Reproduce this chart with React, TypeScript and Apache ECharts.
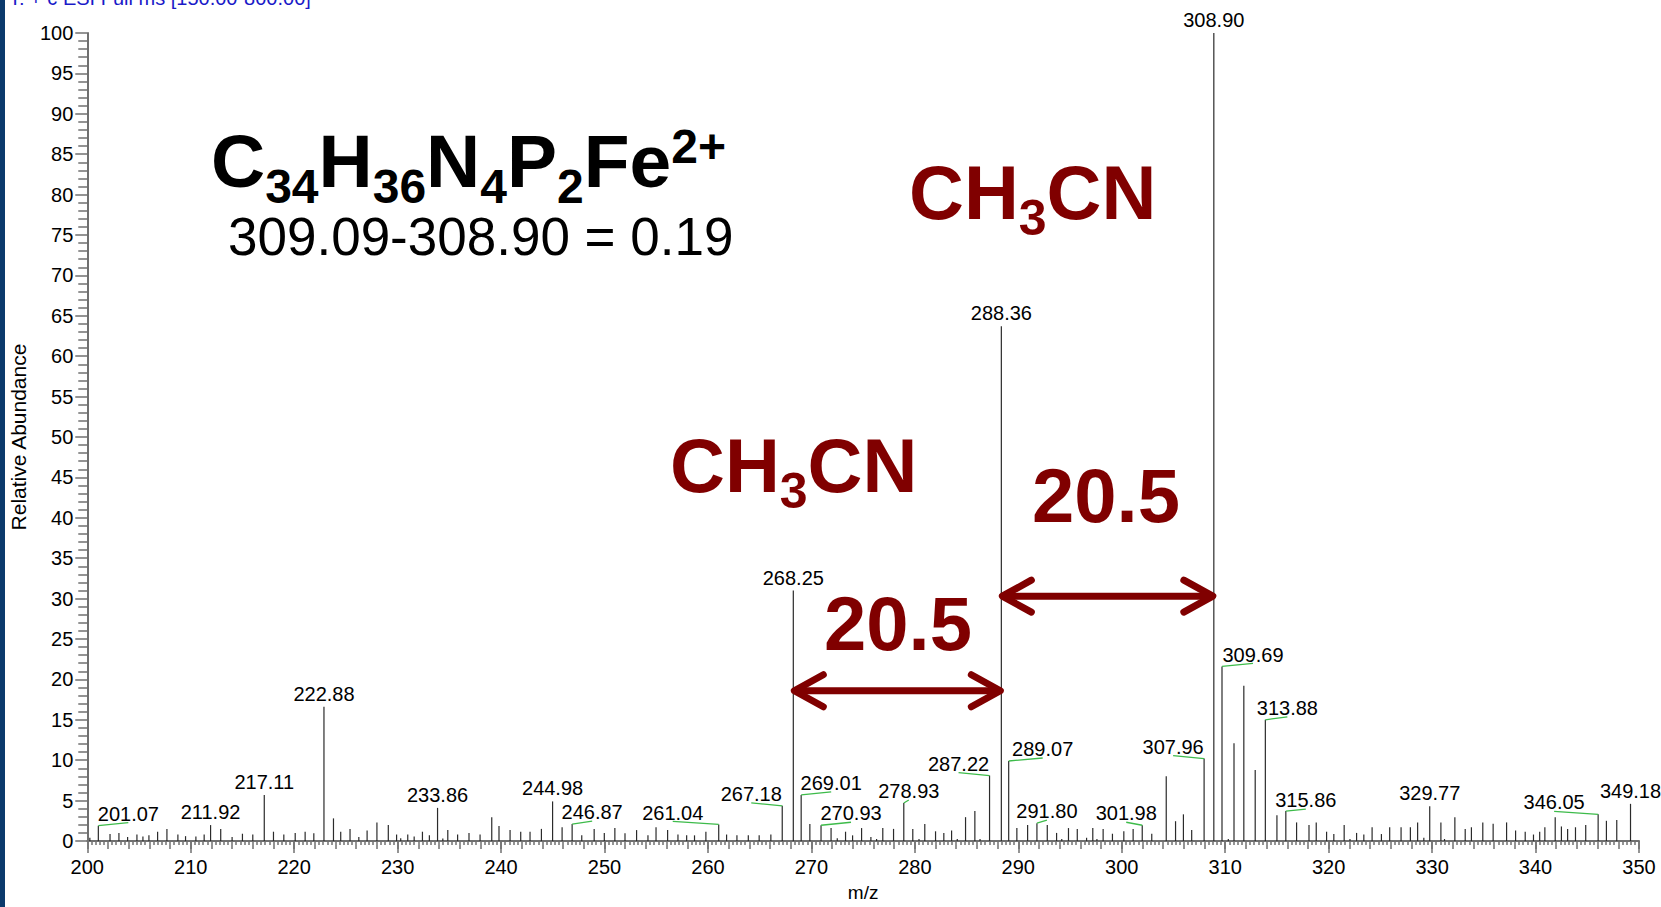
import React, { useEffect, useRef } from "react";
import * as echarts from "echarts";

// ---- spectrum data: centroid sticks (m/z, relative abundance %) ----
const peakMz = [
  200.25, 201.07, 202.2, 203.06, 203.9, 204.8, 205.38, 205.96, 206.8, 207.7,
  208.76, 209.5, 210.5, 211.3, 211.92, 212.9, 214.0, 215.0, 216.0, 217.11,
  218.0, 219.0, 220.1, 221.06, 221.9, 222.88, 223.8, 224.5, 225.4, 226.25,
  227.05, 228.0, 229.1, 229.9, 230.3, 230.98, 231.6, 232.4, 233.07, 233.86,
  234.37, 234.85, 235.8, 236.9, 237.97, 239.1, 239.8, 240.87, 241.9, 242.8,
  243.9, 244.98, 245.9, 246.87, 247.8, 249.0, 249.98, 251.0, 251.98, 253.1,
  254.2, 254.98, 256.1, 257.1, 257.94, 258.7, 259.8, 261.04, 261.8, 262.8,
  263.9, 264.95, 266.08, 267.18, 268.25, 269.01, 269.85, 270.93, 271.9, 272.5,
  273.3, 273.98, 274.85, 275.75, 276.3, 276.9, 277.94, 278.93, 279.8, 280.4,
  280.96, 282.0, 282.8, 283.55, 284.1, 284.9, 285.8, 286.3, 287.22, 288.36,
  289.07, 289.86, 290.9, 291.8, 292.8, 293.7, 294.2, 294.85, 295.7, 296.6,
  297.2, 297.6, 298.2, 299.1, 300.2, 301.1, 301.98, 302.9, 304.3, 305.2,
  305.96, 306.76, 307.96, 308.9, 309.69, 310.3, 310.85, 311.8, 312.9, 313.88,
  315.0, 315.86, 316.9, 318.1, 318.8, 319.8, 320.5, 321.5, 322.06, 322.7,
  323.4, 324.2, 325.1, 325.9, 327.0, 327.9, 328.6, 329.2, 329.77, 330.85,
  331.2, 332.2, 333.2, 333.8, 334.9, 335.9, 337.2, 338.07, 339.0, 339.8,
  340.4, 340.9, 341.9, 342.5, 343.1, 343.86, 344.85, 346.05, 346.85, 347.85,
  349.18,
];

const peakAbundance = [
  0.4, 1.9, 0.86, 1.0, 0.5, 0.8, 0.55, 0.7, 1.15, 1.5,
  0.8, 0.6, 0.55, 0.8, 1.97, 1.5, 0.5, 0.9, 0.8, 5.7,
  1.15, 0.8, 1.0, 1.15, 0.95, 16.6, 2.8, 1.15, 1.5, 0.5,
  1.3, 2.3, 1.97, 0.8, 0.35, 0.8, 0.55, 1.15, 0.7, 4.1,
  0.3, 1.35, 0.8, 1.0, 0.8, 2.95, 1.85, 1.35, 1.15, 1.15,
  1.5, 4.9, 1.7, 2.1, 0.7, 1.5, 1.0, 1.6, 0.95, 1.35,
  0.7, 1.7, 1.35, 0.8, 0.7, 0.7, 1.15, 2.05, 0.8, 0.7,
  0.7, 0.7, 0.8, 4.35, 31.0, 5.7, 2.1, 1.95, 1.6, 0.35,
  1.15, 0.7, 1.6, 0.5, 0.25, 1.6, 1.5, 4.7, 1.5, 0.25,
  2.1, 1.2, 1.0, 1.3, 0.25, 2.95, 3.7, 0.25, 8.1, 63.7,
  9.9, 1.6, 1.97, 2.2, 1.97, 1.0, 0.25, 1.6, 1.5, 0.4,
  1.6, 0.25, 1.5, 0.9, 1.2, 1.5, 1.95, 0.9, 8.0, 2.45,
  3.3, 1.35, 10.2, 100, 21.6, 0.25, 12.1, 19.2, 8.8, 15.0,
  3.2, 3.7, 2.3, 1.97, 2.3, 1.15, 0.86, 1.97, 0.25, 1.0,
  0.8, 1.7, 0.86, 1.7, 1.7, 1.7, 2.3, 0.4, 4.3, 2.3,
  0.25, 2.95, 1.5, 1.7, 2.3, 2.15, 2.3, 1.3, 1.15, 0.8,
  1.15, 1.7, 2.95, 1.8, 1.5, 1.7, 1.97, 3.3, 2.5, 2.6,
  4.6,
];

// sticks that carry an m/z label
const labeledMz = [
  "201.07", "211.92", "217.11", "222.88", "233.86", "244.98", "246.87",
  "261.04", "267.18", "268.25", "269.01", "270.93", "278.93", "287.22",
  "288.36", "289.07", "291.80", "301.98", "307.96", "308.90", "309.69",
  "313.88", "315.86", "329.77", "346.05", "349.18",
];

// label nudges in px (same order as labeledMz); nudged labels get a leader line
const labelNudgePx: [number, number][] = [
  [30, 1], [0, 0], [0, 0], [0, 0], [0, 0], [0, 0], [20, 1],
  [-46, 1], [-31, 1], [0, 0], [30, 1], [30, 1], [5, 1], [-31, 1],
  [0, 0], [34, 1], [10, 1], [-16, 1], [-31, 1], [0, 0], [31, 1],
  [22, 1], [20, 2], [0, 0], [-44, 1], [0, 0],
];

// neutral-loss spacings marked with double arrows (m/z from -> to, at % height)
const arrowFrom = [268.25, 288.36];
const arrowTo = [288.36, 308.9];
const arrowLevel = [18.6, 30.3];

// axis ranges
const MZ_MIN = 200;
const MZ_MAX = 350;
const MZ_MAJOR = 10;
const MZ_MID = 2;
const AB_MIN = 0;
const AB_MAX = 100;
const AB_MAJOR = 5;

const FONT = '"Liberation Sans", Arial, Helvetica, sans-serif';
const AXIS_GRAY = "#707070";
const STICK = "#2b2b2b";
const LEADER = "#3dbb4a";
const MAROON = "#800000";
// offset of the SVG "central" baseline above the alphabetic one, in em
const CENTRAL = 0.3465;

let measureCtx: CanvasRenderingContext2D | null = null;
function textWidth(text: string, size: number, weight: string) {
  if (!measureCtx) measureCtx = document.createElement("canvas").getContext("2d");
  if (!measureCtx) return text.length * size * 0.6;
  measureCtx.font = `${weight} ${size}px ${FONT}`;
  return measureCtx.measureText(text).width;
}

type Piece = [string, "b" | "sub" | "sup"];

// chemical formula laid out as consecutive text runs with sub/superscripts
function formulaText(
  pieces: Piece[],
  x0: number,
  baseline: number,
  big: number,
  small: number,
  drop: number,
  rise: number,
  fill: string,
  weight = "bold"
) {
  let x = x0;
  return pieces.map(([t, pos]) => {
    const size = pos === "b" ? big : small;
    const base = pos === "sub" ? baseline + drop : pos === "sup" ? baseline - rise : baseline;
    const el = {
      type: "text",
      x,
      y: base - CENTRAL * size,
      silent: true,
      style: {
        text: t,
        fill,
        font: `${weight} ${size}px ${FONT}`,
        textAlign: "left",
        align: "left",
        textVerticalAlign: "middle",
        verticalAlign: "middle",
      },
    };
    x += textWidth(t, size, weight);
    return el;
  });
}

function plainText(text: string, x: number, baseline: number, size: number, fill: string, weight = "normal") {
  return formulaText([[text, "b"]], x, baseline, size, size, 0, 0, fill, weight)[0];
}

function abundanceOf(mz: number) {
  const i = peakMz.findIndex((m) => Math.abs(m - mz) < 1e-6);
  return i >= 0 ? peakAbundance[i] : 0;
}

export default function App() {
  const ref = useRef<HTMLDivElement>(null);

  useEffect(() => {
    if (!ref.current) return;
    const chart = echarts.init(ref.current, undefined, { renderer: "svg" });

    const stickData = peakMz.map((m, i) => [m, peakAbundance[i]]);
    const labelData = labeledMz.map((s) => [Number(s), abundanceOf(Number(s))]);
    const arrowData = arrowFrom.map((a, i) => [a, arrowTo[i], arrowLevel[i]]);

    const tickLine = { color: AXIS_GRAY, width: 1.5 };

    const graphics: any[] = [
      { type: "rect", left: 0, top: 0, shape: { x: 0, y: 0, width: 5, height: 907 }, style: { fill: "#0b3a6c" }, silent: true },
      plainText("T: + c ESI Full ms [150.00-800.00]", 9, 4.5, 20, "#1a1ac8"),
      ...formulaText(
        [
          ["C", "b"], ["34", "sub"], ["H", "b"], ["36", "sub"], ["N", "b"], ["4", "sub"],
          ["P", "b"], ["2", "sub"], ["Fe", "b"], ["2+", "sup"],
        ],
        211, 187, 75, 48, 16, 24, "#000"
      ),
      plainText("309.09-308.90 = 0.19", 228, 255, 53, "#000"),
      ...formulaText([["CH", "b"], ["3", "sub"], ["CN", "b"]], 909, 219, 76, 50, 16, 0, MAROON),
      ...formulaText([["CH", "b"], ["3", "sub"], ["CN", "b"]], 670, 491.5, 76, 50, 17, 0, MAROON),
      plainText("20.5", 1032, 522, 76, MAROON, "bold"),
      plainText("20.5", 824, 650, 76, MAROON, "bold"),
    ];

    const option: any = {
      animation: false,
      backgroundColor: "#ffffff",
      textStyle: { fontFamily: FONT },
      grid: { left: 86, top: 33, width: 1553, height: 813, containLabel: false },
      xAxis: [
        {
          type: "value",
          min: MZ_MIN,
          max: MZ_MAX,
          interval: MZ_MAJOR,
          position: "bottom",
          name: "m/z",
          nameLocation: "middle",
          nameGap: 42,
          nameTextStyle: { fontSize: 19, color: "#000", fontFamily: FONT },
          axisLine: { show: true, onZero: false, lineStyle: { color: AXIS_GRAY, width: 2 } },
          axisTick: { show: true, length: 12, lineStyle: tickLine },
          axisLabel: { fontSize: 20, color: "#000", margin: 16, fontFamily: FONT },
          splitLine: { show: false },
        },
        {
          type: "value",
          min: MZ_MIN,
          max: MZ_MAX,
          interval: MZ_MID,
          position: "bottom",
          offset: 0,
          axisLine: { show: false, onZero: false },
          axisLabel: { show: false },
          splitLine: { show: false },
          axisTick: { show: true, length: 8, lineStyle: tickLine },
          minorTick: { show: true, splitNumber: 5, length: 4, lineStyle: tickLine },
        },
      ],
      yAxis: {
        type: "value",
        min: AB_MIN,
        max: AB_MAX,
        interval: AB_MAJOR,
        name: "Relative Abundance",
        nameLocation: "middle",
        nameGap: 46,
        nameTextStyle: { fontSize: 21, color: "#000", fontFamily: FONT },
        axisLine: { show: true, lineStyle: { color: AXIS_GRAY, width: 2 } },
        axisTick: { show: true, length: 12, lineStyle: tickLine },
        minorTick: { show: true, splitNumber: 5, length: 9, lineStyle: tickLine },
        axisLabel: { fontSize: 20, color: "#000", margin: 14, fontFamily: FONT },
        splitLine: { show: false },
      },
      series: [
        {
          type: "custom",
          name: "sticks",
          xAxisIndex: 0,
          yAxisIndex: 0,
          z: 2,
          encode: { x: 0, y: 1 },
          data: stickData,
          renderItem: (_p: any, api: any) => {
            const top = api.coord([api.value(0), api.value(1)]);
            const base = api.coord([api.value(0), 0]);
            return {
              type: "line",
              shape: { x1: top[0], y1: top[1], x2: base[0], y2: base[1] },
              style: { stroke: STICK, lineWidth: 1.2 },
            };
          },
        },
        {
          type: "custom",
          name: "arrows",
          xAxisIndex: 0,
          yAxisIndex: 0,
          z: 3,
          encode: { x: [0, 1], y: 2 },
          data: arrowData,
          renderItem: (_p: any, api: any) => {
            const a = api.coord([api.value(0), api.value(2)]);
            const b = api.coord([api.value(1), api.value(2)]);
            const hx = 30;
            const hy = 16;
            const st = { stroke: MAROON, lineWidth: 7, lineCap: "round", lineJoin: "round", fill: "none" };
            return {
              type: "group",
              children: [
                { type: "line", shape: { x1: a[0] + 3, y1: a[1], x2: b[0] - 3, y2: b[1] }, style: st },
                { type: "polyline", shape: { points: [[a[0] + hx, a[1] - hy], [a[0] + 1, a[1]], [a[0] + hx, a[1] + hy]] }, style: st },
                { type: "polyline", shape: { points: [[b[0] - hx, b[1] - hy], [b[0] - 1, b[1]], [b[0] - hx, b[1] + hy]] }, style: st },
              ],
            };
          },
        },
        {
          type: "custom",
          name: "labels",
          xAxisIndex: 0,
          yAxisIndex: 0,
          z: 4,
          encode: { x: 0, y: 1 },
          data: labelData,
          renderItem: (p: any, api: any) => {
            const i = p.dataIndex;
            const [dx, dy] = labelNudgePx[i];
            const top = api.coord([api.value(0), api.value(1)]);
            const tx = top[0] + dx;
            const base = top[1] - 6 + dy;
            const children: any[] = [];
            if (dx !== 0) {
              children.push({
                type: "line",
                shape: { x1: top[0], y1: top[1], x2: tx, y2: base + 2 },
                style: { stroke: LEADER, lineWidth: 1.3 },
              });
            }
            children.push({
              type: "text",
              x: tx,
              y: base - CENTRAL * 20,
              style: {
                text: labeledMz[i],
                fill: "#000",
                font: `20px ${FONT}`,
                textAlign: "center",
                align: "center",
                textVerticalAlign: "middle",
                verticalAlign: "middle",
              },
            });
            return { type: "group", children };
          },
        },
      ],
      graphic: { elements: graphics },
    };

    chart.setOption(option);
    return () => chart.dispose();
  }, []);

  return (
    <div
      ref={ref}
      style={{ position: "fixed", left: 0, top: 0, width: "1661px", height: "907px", background: "#fff" }}
    />
  );
}
